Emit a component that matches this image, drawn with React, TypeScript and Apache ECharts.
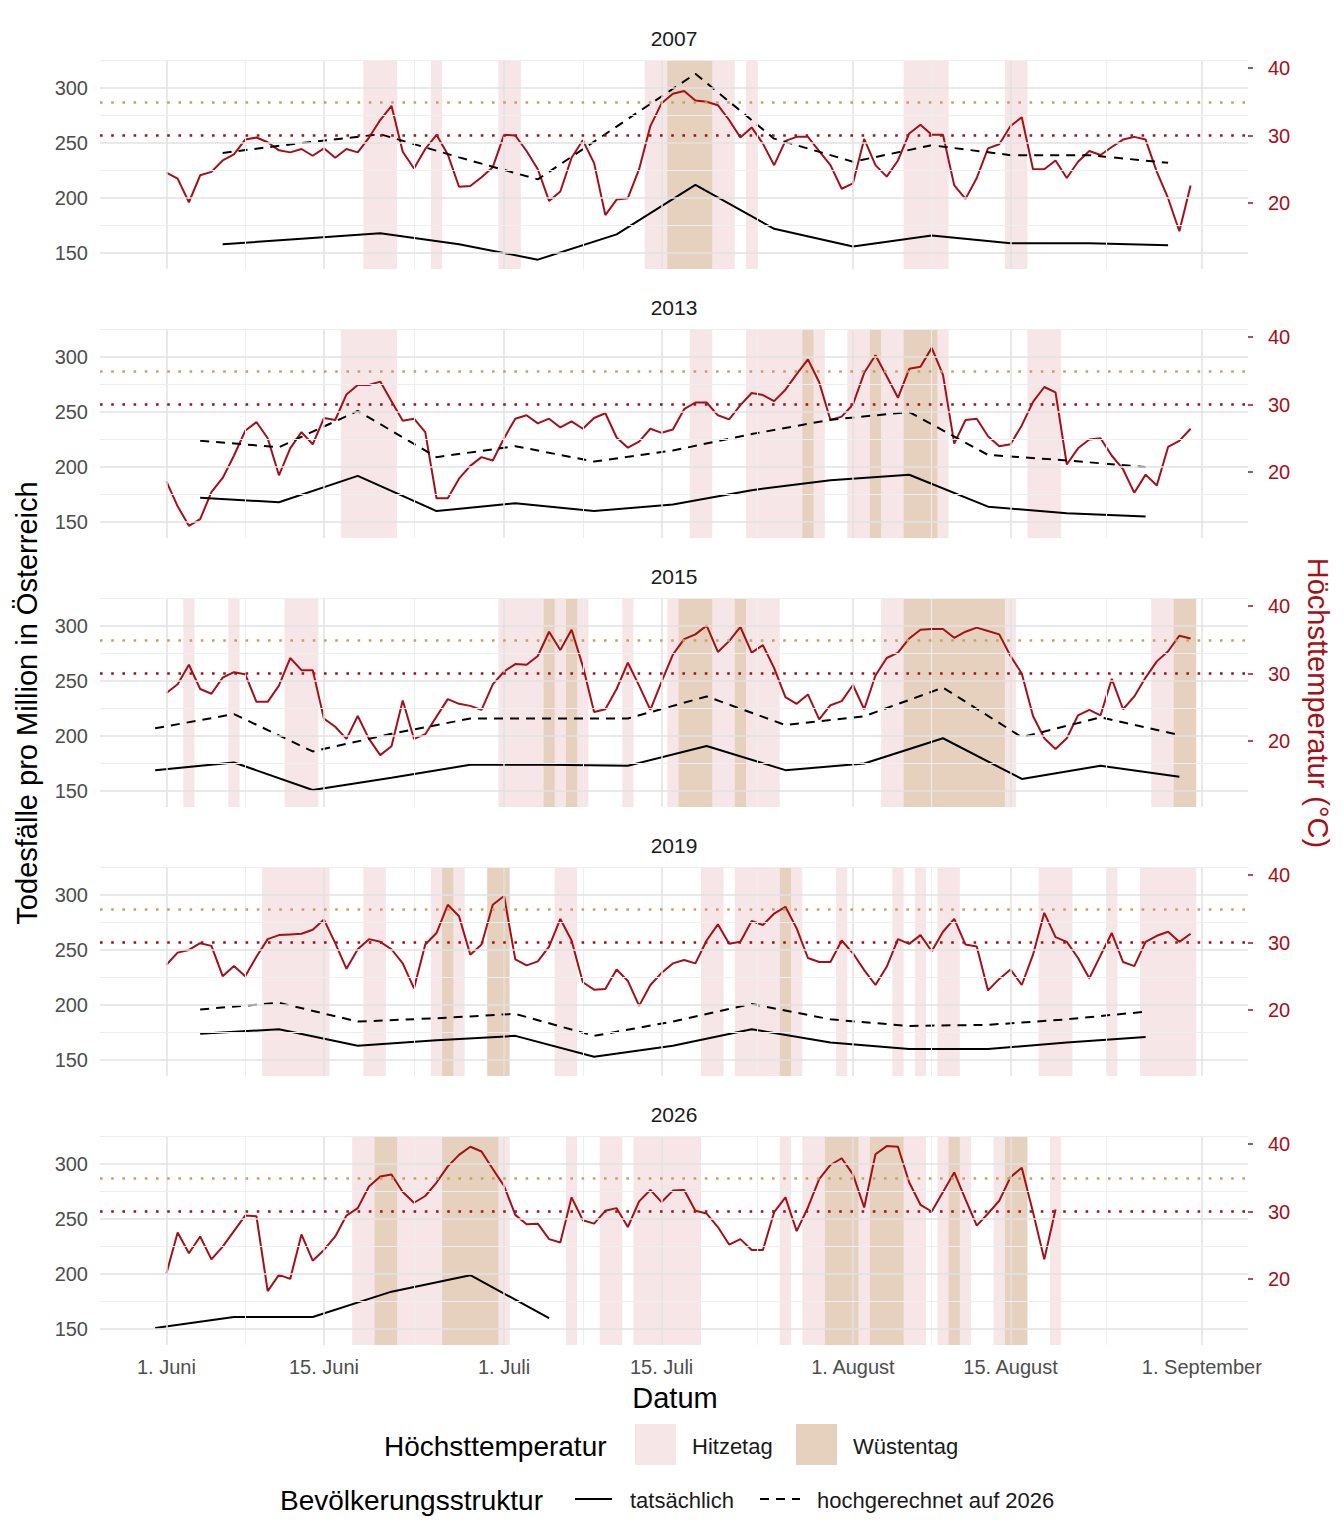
import React, { useEffect, useRef } from 'react';
import * as echarts from 'echarts';

// Jahre der Panels
const years = ['2007', '2013', '2015', '2019', '2026'];

// Tägliche Höchsttemperatur ab 1. Juni (Tag 0)
const temp2007 = [24.5, 23.6, 20.1, 24.1, 24.6, 26.3, 27.2, 29.4, 29.7, 29.0, 27.8, 27.5, 28.0, 27.0, 28.1, 26.7, 28.0, 27.5, 29.7, 32.3, 34.4, 27.6, 25.1, 28.0, 30.1, 27.2, 22.4, 22.5, 23.8, 25.3, 30.1, 30.0, 27.7, 25.0, 20.3, 21.7, 26.7, 29.3, 25.9, 18.2, 20.5, 20.7, 25.0, 31.4, 34.8, 36.2,
  36.6, 35.2, 35.0, 34.5, 32.3, 29.7, 31.2, 28.8, 25.6, 29.2, 29.8, 29.8, 27.7, 25.6, 22.1, 22.9, 29.5, 25.6, 23.9, 26.3, 30.3, 31.6, 30.1, 30.1, 22.6, 20.6, 23.7, 28.1, 28.7, 31.4, 32.7, 25.0, 25.0, 26.3, 23.7, 26.1, 27.7, 27.1, 28.3, 29.4, 29.8, 29.4, 24.6, 20.7, 15.8, 22.6];
const temp2013 = [18.6, 14.9, 12.0, 13.0, 17.0, 19.1, 22.4, 26.1, 27.4, 25.0, 19.5, 23.5, 25.9, 24.1, 28.0, 27.7, 31.5, 32.9, 32.9, 33.4, 30.5, 27.6, 27.9, 25.9, 16.1, 16.1, 19.0, 20.9, 22.2, 21.7, 25.0, 27.9, 28.4, 27.2, 27.9, 26.6, 27.5, 26.4, 28.0, 28.7, 25.1, 23.6, 24.5, 26.4, 25.8, 26.3,
  29.3, 30.3, 30.3, 28.4, 27.8, 29.9, 31.7, 31.4, 30.5, 32.2, 34.5, 36.7, 33.3, 27.7, 28.2, 30.0, 34.7, 37.3, 34.2, 31.0, 35.3, 35.6, 38.4, 34.4, 24.2, 27.7, 27.9, 25.3, 23.8, 24.1, 26.9, 30.4, 32.6, 31.8, 21.1, 23.5, 24.8, 25.0, 22.4, 20.4, 16.9, 19.6, 18.0, 23.7, 24.6, 26.4];
const temp2015 = [27.1, 28.4, 31.3, 27.7, 27.0, 29.4, 30.2, 29.9, 25.8, 25.8, 28.2, 32.3, 30.5, 30.5, 23.3, 22.1, 20.3, 23.7, 20.3, 17.9, 19.2, 26.0, 20.3, 21.0, 23.6, 26.2, 25.5, 25.2, 24.6, 28.4, 30.3, 31.4, 31.3, 32.6, 36.2, 33.5, 36.5, 31.1, 24.3, 24.7, 27.7, 31.6, 28.2, 24.6, 28.8, 32.8,
  35.1, 35.8, 37.1, 33.2, 34.8, 36.9, 33.1, 34.2, 30.8, 26.5, 25.5, 26.9, 23.2, 25.3, 25.9, 28.3, 24.7, 29.7, 32.3, 33.1, 35.2, 36.5, 36.6, 36.6, 35.3, 36.2, 36.8, 36.3, 35.8, 32.6, 30.0, 23.7, 20.4, 18.8, 20.4, 23.8, 24.6, 23.8, 29.2, 24.7, 26.6, 29.4, 31.8, 33.3, 35.6, 35.2];
const temp2019 = [26.7, 28.5, 28.9, 29.9, 29.5, 25.0, 26.5, 25.0, 27.9, 30.5, 31.1, 31.2, 31.3, 31.9, 33.4, 29.9, 26.1, 29.0, 30.5, 30.1, 29.0, 26.9, 23.2, 29.7, 31.4, 35.6, 33.9, 28.2, 29.7, 35.6, 36.9, 27.5, 26.6, 27.2, 29.4, 33.5, 30.3, 24.1, 23.0, 23.1, 26.0, 24.3, 20.6, 23.7, 25.5, 26.9,
  27.4, 26.9, 30.3, 32.7, 29.8, 30.1, 33.2, 32.6, 34.3, 35.3, 32.1, 27.7, 27.1, 27.1, 30.3, 28.4, 25.9, 23.7, 26.4, 30.5, 29.8, 31.1, 28.7, 31.6, 33.5, 29.7, 29.4, 22.9, 24.6, 26.0, 23.7, 28.2, 34.4, 30.8, 30.1, 27.7, 24.7, 28.1, 31.4, 27.1, 26.5, 30.1, 31.0, 31.6, 30.1, 31.3];
const temp2026 = [20.8, 26.9, 23.8, 26.3, 22.9, 24.8, 27.1, 29.4, 29.3, 18.2, 20.6, 20.0, 26.6, 22.7, 24.3, 26.3, 29.4, 30.5, 33.7, 35.2, 35.5, 32.9, 31.3, 32.3, 34.3, 36.7, 38.4, 39.6, 38.9, 36.3, 33.8, 29.5, 28.1, 28.2, 25.9, 25.4, 32.1, 28.7, 28.2, 30.1, 30.5, 27.7, 31.5, 33.2, 31.4, 33.1,
  33.2, 30.1, 29.7, 27.7, 25.1, 25.9, 24.3, 24.3, 29.9, 32.1, 27.1, 30.6, 34.8, 36.9, 37.9, 35.5, 30.6, 38.5, 39.7, 39.6, 34.3, 31.0, 30.0, 32.9, 35.8, 31.8, 27.9, 29.7, 31.6, 35.1, 36.5, 29.9, 22.9, 30.3];

// Wöchentliche Todesfälle pro Million
const deathDays2007 = [5, 12, 19, 26, 33, 40, 47, 54, 61, 68, 75, 82, 89];
const actual2007 = [158, 163, 168, 158, 144, 167, 212, 172, 156, 166, 159, 159, 157];
const proj2007 = [241, 250, 258, 237, 217, 265, 313, 254, 233, 248, 239, 239, 232];
const deathDays2013 = [3, 10, 17, 24, 31, 38, 45, 52, 59, 66, 73, 80, 87];
const actual2013 = [172, 168, 192, 160, 167, 160, 166, 179, 188, 193, 164, 158, 155];
const proj2013 = [224, 218, 251, 209, 219, 205, 215, 230, 243, 250, 211, 206, 200];
const deathDays2015 = [-1, 6, 13, 20, 27, 34, 41, 48, 55, 62, 69, 76, 83, 90];
const actual2015 = [169, 176, 151, 162, 174, 174, 173, 191, 169, 175, 198, 161, 173, 163];
const proj2015 = [207, 220, 186, 202, 216, 216, 216, 236, 210, 218, 244, 199, 217, 201];
const deathDays2019 = [3, 10, 17, 24, 31, 38, 45, 52, 59, 66, 73, 80, 87];
const actual2019 = [174, 178, 163, 168, 172, 153, 163, 178, 166, 160, 160, 166, 171];
const proj2019 = [196, 202, 185, 188, 192, 172, 185, 201, 187, 181, 182, 187, 194];
const deathDays2026 = [-1, 6, 13, 20, 27, 34];
const actual2026 = [151, 161, 161, 184, 199, 160];

// Hitzetage (>=30 °C) und Wüstentage (>=35 °C), Tagesbereiche
const hitze2007 = [[18, 20], [24, 24], [30, 31], [43, 44], [49, 50], [52, 52], [66, 69], [75, 76]];
const wueste2007 = [[45, 48]];
const hitze2013 = [[16, 20], [47, 48], [52, 56], [58, 58], [61, 62], [64, 65], [69, 69], [77, 79]];
const wueste2013 = [[57, 57], [63, 63], [66, 68]];
const hitze2015 = [[2, 2], [6, 6], [11, 13], [30, 33], [35, 35], [37, 37], [41, 41], [45, 45], [49, 50], [52, 54], [64, 65], [75, 75], [88, 89]];
const wueste2015 = [[34, 34], [36, 36], [46, 48], [51, 51], [66, 74], [90, 91]];
const hitze2019 = [[9, 14], [18, 19], [24, 24], [26, 26], [35, 36], [48, 49], [51, 54], [56, 56], [60, 60], [65, 65], [67, 67], [69, 70], [78, 80], [84, 84], [87, 91]];
const wueste2019 = [[25, 25], [29, 30], [55, 55]];
const hitze2026 = [[17, 18], [21, 24], [30, 30], [36, 36], [39, 40], [42, 47], [55, 55], [57, 58], [62, 62], [66, 67], [69, 69], [71, 71], [74, 74], [79, 79]];
const wueste2026 = [[19, 20], [25, 29], [59, 61], [63, 65], [70, 70], [75, 76]];

// Achsen
const xMajorDays = [0, 14, 30, 44, 61, 75, 92];
const xMajorLabels = ['1. Juni', '15. Juni', '1. Juli', '15. Juli', '1. August', '15. August', '1. September'];
const xMinorDays = [7, 22, 37, 52.5, 68, 83.5];
const yMajor = [150, 200, 250, 300];
const yMinor = [175, 225, 275, 325];
const tempTicks = [20, 30, 40];

const temps = [temp2007, temp2013, temp2015, temp2019, temp2026];
const deathDays = [deathDays2007, deathDays2013, deathDays2015, deathDays2019, deathDays2026];
const actuals = [actual2007, actual2013, actual2015, actual2019, actual2026];
const projs = [proj2007, proj2013, proj2015, proj2019, null];
const hitze = [hitze2007, hitze2013, hitze2015, hitze2019, hitze2026];
const wueste = [wueste2007, wueste2013, wueste2015, wueste2019, wueste2026];

const FONT = 'Liberation Sans, Arial, sans-serif';
const RED = '#A50F15';
const TAN = '#C9A064';
const PINK = 'rgba(190,60,70,0.13)';
const BROWN = 'rgba(175,115,55,0.33)';

const App: React.FC = () => {
  const chartRef = useRef<HTMLDivElement>(null);

  useEffect(() => {
    document.body.style.margin = '0';
    if (!chartRef.current) return;
    const chart = echarts.init(chartRef.current, undefined, { renderer: 'svg' });

    const grids: any[] = [];
    const xAxes: any[] = [];
    const yAxes: any[] = [];
    const series: any[] = [];
    const graphics: any[] = [];

    years.forEach((yr, i) => {
      const top = 60 + 269 * i;
      grids.push({ left: 100, right: 96, top, height: 209 });
      const last = i === years.length - 1;
      xAxes.push({
        type: 'value', gridIndex: i, min: -5.9, max: 96.1,
        show: last,
        axisLine: { show: false }, axisTick: { show: false }, splitLine: { show: false },
        axisLabel: {
          show: last, customValues: xMajorDays, color: '#4d4d4d', fontSize: 20, fontFamily: FONT, margin: 12,
          formatter: (v: number) => xMajorLabels[xMajorDays.indexOf(v)] ?? '',
        },
      });
      yAxes.push({
        type: 'value', gridIndex: i, min: 135.5, max: 325.5, position: 'left',
        axisLine: { show: false }, axisTick: { show: false }, splitLine: { show: false },
        axisLabel: { customValues: yMajor, color: '#4d4d4d', fontSize: 20, fontFamily: FONT, margin: 12 },
      });
      yAxes.push({
        type: 'value', gridIndex: i, min: 10.2, max: 41.2, position: 'right',
        axisLine: { show: false }, splitLine: { show: false },
        axisTick: { show: true, customValues: tempTicks, length: 5, lineStyle: { color: RED, width: 1.5 } },
        axisLabel: { customValues: tempTicks, color: RED, fontSize: 20, fontFamily: FONT, margin: 20 },
      });
      const lAxis = 2 * i;
      const rAxis = 2 * i + 1;

      const gridLine = (val: number, axis: 'xAxis' | 'yAxis', major: boolean) => ({
        [axis]: val,
        lineStyle: { color: major ? '#e2e2e2' : '#eeeeee', width: major ? 1.5 : 1, type: 'solid' },
      });

      // Hintergrund: Gitter + Hitzetage
      series.push({
        type: 'line', xAxisIndex: i, yAxisIndex: lAxis, z: 1, silent: true,
        data: [[-5, 200]], showSymbol: false, lineStyle: { opacity: 0 },
        markLine: {
          silent: true, symbol: 'none', label: { show: false },
          data: [
            ...xMajorDays.map(d => gridLine(d, 'xAxis', true)),
            ...xMinorDays.map(d => gridLine(d, 'xAxis', false)),
            ...yMajor.map(v => gridLine(v, 'yAxis', true)),
            ...yMinor.map(v => gridLine(v, 'yAxis', false)),
          ],
        },
        markArea: {
          silent: true, itemStyle: { color: PINK },
          data: hitze[i].map(([s, e]) => [{ xAxis: s - 0.5 }, { xAxis: e + 0.5 }]),
        },
      });
      series.push({
        type: 'line', xAxisIndex: i, yAxisIndex: lAxis, z: 1, silent: true,
        data: [[-5, 200]], showSymbol: false, lineStyle: { opacity: 0 },
        markArea: {
          silent: true, itemStyle: { color: BROWN },
          data: wueste[i].map(([s, e]) => [{ xAxis: s - 0.5 }, { xAxis: e + 0.5 }]),
        },
      });
      // Temperatur
      series.push({
        type: 'line', xAxisIndex: i, yAxisIndex: rAxis, z: 3,
        data: temps[i].map((t, d) => [d, t]), showSymbol: false,
        lineStyle: { color: RED, width: 2 },
        markLine: {
          silent: true, symbol: 'none', label: { show: false },
          data: [
            { yAxis: 30, lineStyle: { color: RED, width: 2.6, type: [2.6, 8.6] } },
            { yAxis: 35, lineStyle: { color: TAN, width: 2.6, type: [2.6, 8.6] } },
          ],
        },
      });
      // Todesfälle
      series.push({
        type: 'line', xAxisIndex: i, yAxisIndex: lAxis, z: 4,
        data: deathDays[i].map((d, k) => [d, actuals[i][k]]), showSymbol: false,
        lineStyle: { color: '#000', width: 2 },
      });
      const p = projs[i];
      if (p) {
        series.push({
          type: 'line', xAxisIndex: i, yAxisIndex: lAxis, z: 4,
          data: deathDays[i].map((d, k) => [d, p[k]]), showSymbol: false,
          lineStyle: { color: '#000', width: 2, type: [9, 7] },
        });
      }
      graphics.push({
        type: 'text', x: 674, y: top - 22, style: {
          text: yr, font: `21px ${FONT}`, fill: '#1a1a1a', textAlign: 'center', textVerticalAlign: 'middle',
        },
      });
    });

    const txt = (text: string, x: number, y: number, size: number, extra: any = {}) => ({
      type: 'text', x, y, ...extra,
      style: { text, font: `${size}px ${FONT}`, fill: extra.fill ?? '#000', textVerticalAlign: 'middle', textAlign: extra.align ?? 'left' },
    });

    graphics.push(
      txt('Todesfälle pro Million in Österreich', 27, 703, 29, { rotation: Math.PI / 2, align: 'center' }),
      txt('Höchsttemperatur (°C)', 1318, 703, 29, { rotation: -Math.PI / 2, align: 'center', fill: RED }),
      txt('Datum', 675, 1398, 29, { align: 'center' }),
      txt('Höchsttemperatur', 384, 1446, 28),
      { type: 'rect', shape: { x: 635, y: 1424, width: 41, height: 41 }, style: { fill: PINK } },
      txt('Hitzetag', 692, 1446, 22, { fill: '#1a1a1a' }),
      { type: 'rect', shape: { x: 796, y: 1424, width: 41, height: 41 }, style: { fill: BROWN } },
      txt('Wüstentag', 853, 1446, 22, { fill: '#1a1a1a' }),
      txt('Bevölkerungsstruktur', 280, 1500, 28),
      { type: 'line', shape: { x1: 575, y1: 1499, x2: 612, y2: 1499 }, style: { stroke: '#000', lineWidth: 2 } },
      txt('tatsächlich', 630, 1500, 22, { fill: '#1a1a1a' }),
      { type: 'line', shape: { x1: 760, y1: 1499, x2: 800, y2: 1499 }, style: { stroke: '#000', lineWidth: 2, lineDash: [9, 7] } },
      txt('hochgerechnet auf 2026', 817, 1500, 22, { fill: '#1a1a1a' }),
    );

    chart.setOption({
      animation: false,
      textStyle: { fontFamily: FONT },
      grid: grids,
      xAxis: xAxes,
      yAxis: yAxes,
      series,
      graphic: graphics,
    });

    return () => chart.dispose();
  }, []);

  return <div ref={chartRef} style={{ width: 1344, height: 1536 }} />;
};

export default App;
